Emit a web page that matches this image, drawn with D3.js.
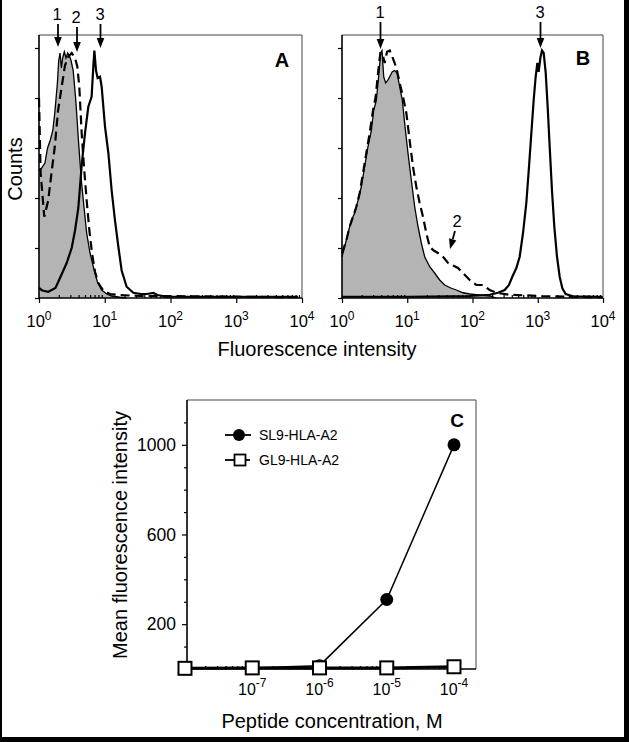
<!DOCTYPE html>
<html><head><meta charset="utf-8">
<script src="https://cdn.jsdelivr.net/npm/d3@7"></script>
<style>
body{margin:0;background:#fff}
svg{display:block}
text{font-family:"Liberation Sans",Arial,Helvetica,sans-serif;fill:#000}
</style>
</head><body>
<svg id="chart" width="629" height="742"></svg>
<script>
// ---------------- DATA ----------------
// Panels A/B: histogram curves as (log10 fluorescence intensity, counts in % of peak)
const aFillLog = [0,0.04,0.09,0.13,0.17,0.21,0.24,0.28,0.30,0.32,0.34,0.36,0.385,0.41,0.436,0.46,0.487,0.52,0.56,0.60,0.644,0.684,0.725,0.776,0.826,0.887,0.953,1.03,1.105,1.23,1.33];
const aFillCnt = [51,52,54,60,63,67,74,86,95,98,92,96,98.5,96,98,97,95,91,79,63,47,36.5,26,18,12.5,6.5,3.2,1.6,0.8,0.3,0];
const aDashLog = [0,0.025,0.08,0.14,0.19,0.24,0.29,0.345,0.395,0.446,0.497,0.548,0.583,0.613,0.649,0.684,0.725,0.766,0.806,0.852,0.902,0.978,1.08,1.23,1.54,1.79,3.97];
const aDashCnt = [80,50,32.5,39,50,60.5,75,84.5,93,96.5,98,96,92.5,84.5,66,52.5,39,27,18,10.5,6,3,1.6,1.2,0.8,0.8,0.3];
const aSolidLog = [0,0.05,0.142,0.25,0.294,0.37,0.421,0.497,0.548,0.598,0.649,0.70,0.75,0.80,0.826,0.842,0.867,0.892,0.928,0.953,1.004,1.055,1.105,1.156,1.207,1.257,1.333,1.435,1.55,1.64,1.74,1.80,1.94,3.94];
const aSolidCnt = [4,3,2.5,4,6.5,11,14,20,27,36,53,66,76.5,80.5,92.5,99,91,88,88.5,84.5,68.5,58,43,31,20.5,11,4.5,2.1,1.6,1.6,2,1.2,0.5,0.5];

const bFillLog = [0,0.041,0.092,0.143,0.194,0.245,0.296,0.347,0.398,0.45,0.485,0.526,0.567,0.593,0.613,0.639,0.669,0.70,0.731,0.771,0.807,0.843,0.884,0.925,0.966,1.011,1.063,1.114,1.165,1.216,1.267,1.344,1.42,1.497,1.573,1.676,1.752,1.854,1.957,2.059,2.263,2.365];
const bFillCnt = [16.5,20.5,26,31,34,39,44.5,52.5,60.5,67,75,79,90,98,99,88.5,86,87,88.5,90.5,91,90,84.5,79,68.5,58,47,36.5,28.5,22,16.5,12.5,10,7.2,5.2,3.9,3.2,2.1,1.6,1.3,0.8,0];
const bDashLog = [0,0.066,0.117,0.169,0.22,0.271,0.322,0.373,0.424,0.475,0.516,0.552,0.587,0.618,0.654,0.69,0.731,0.771,0.807,0.843,0.884,0.935,0.986,1.037,1.088,1.139,1.19,1.241,1.292,1.344,1.405,1.471,1.548,1.625,1.701,1.778,1.854,1.957,2.059,2.161,2.263,2.365,2.57,2.774,3.08,4.0];
const bDashCnt = [18,23,28.5,32.5,36.5,42,50,58,66,75,80.5,90,98,98,94,98.5,99,96.5,94,91,86,80.5,74,63,52.5,44.5,38,32.5,26,20.5,19,18,16.5,14,13,12,10,7.2,5.2,5.2,3.2,2.1,1.3,1.1,0.7,0.3];
const bSolidLog = [0,1.037,1.957,2.263,2.391,2.493,2.559,2.61,2.672,2.723,2.774,2.825,2.866,2.902,2.937,2.968,2.994,3.014,3.04,3.065,3.091,3.122,3.152,3.183,3.218,3.254,3.295,3.336,3.377,3.428,3.54,3.99];
const bSolidCnt = [0.5,0.5,0.8,1.3,2.1,3.2,5.2,8.5,12,16.5,26,38,52.5,66,79,88.5,94,90.5,96,99,98,90,76.5,60.5,43,28.5,16.5,8.5,3.9,1.6,0.7,0.5];

const histMajorTicks = [1, 10, 100, 1000, 10000];
const histMajorExp = ["0", "1", "2", "3", "4"];
const countTicks = [0, 20, 40, 60, 80, 100];

// Panel C
const concentrations = [1e-8, 1e-7, 1e-6, 1e-5, 1e-4];
const sl9Values = [5, 5, 15, 310, 1000];
const gl9Values = [3, 5, 5, 5, 10];
const concTickValues = [1e-7, 1e-6, 1e-5, 1e-4];
const concTickExp = ["-7", "-6", "-5", "-4"];
const mfiTickLabels = [200, 600, 1000];
const mfiMinorTicks = [100, 300, 400, 500, 700, 800, 900, 1100];
const seriesNames = ["SL9-HLA-A2", "GL9-HLA-A2"];

// ---------------- DRAW ----------------
const svg = d3.select("#chart");

function zipPts(logs, cnts) { return logs.map((l, i) => [l, cnts[i]]); }
function minorLogTicks(lo, hi) {
  const out = [];
  for (let e = lo; e < hi; e++) for (let k = 2; k <= 9; k++) out.push(k * Math.pow(10, e));
  return out;
}

function histPanel(x0, x1, fill, dash, solid, letter, letterPos) {
  const g = svg.append("g");
  const x = d3.scaleLog().domain([1, 10000]).range([x0, x1]);
  const y = d3.scaleLinear().domain([0, 105.2]).range([298, 35]);
  const X = d => x(Math.pow(10, d[0]));
  const area = d3.area().x(X).y0(y(0)).y1(d => y(d[1]));
  const line = d3.line().x(X).y(d => y(d[1]));

  g.append("path").datum(fill).attr("d", area).attr("fill", "#b4b4b4");
  g.append("path").datum(fill).attr("d", line).attr("fill", "none").attr("stroke", "#000").attr("stroke-width", 1.3);
  g.append("path").datum(dash).attr("d", line).attr("fill", "none").attr("stroke", "#000")
    .attr("stroke-width", 2.2).attr("stroke-dasharray", "9,5");
  g.append("path").datum(solid).attr("d", line).attr("fill", "none").attr("stroke", "#000").attr("stroke-width", 2.2);

  // frame
  g.append("line").attr("x1", x0).attr("x2", x1).attr("y1", 35).attr("y2", 35).attr("stroke", "#444").attr("stroke-width", 1);
  g.append("line").attr("x1", x1).attr("x2", x1).attr("y1", 35).attr("y2", 298).attr("stroke", "#444").attr("stroke-width", 1);
  g.append("line").attr("x1", x0).attr("x2", x0).attr("y1", 35).attr("y2", 298).attr("stroke", "#000").attr("stroke-width", 1.6);
  g.append("line").attr("x1", x0).attr("x2", x1).attr("y1", 298).attr("y2", 298).attr("stroke", "#000").attr("stroke-width", 1.6);

  // x ticks
  const ax = g.append("g").attr("transform", "translate(0,298)")
    .call(d3.axisBottom(x).tickValues(histMajorTicks).tickSize(5).tickFormat(""));
  ax.select(".domain").remove();
  const axm = g.append("g").attr("transform", "translate(0,298)")
    .call(d3.axisTop(x).tickValues(minorLogTicks(0, 4)).tickSize(3).tickFormat(""));
  axm.select(".domain").remove();
  g.selectAll(".tick line").attr("stroke", "#000").attr("stroke-width", 1.2);

  histMajorTicks.forEach((v, i) => {
    const t = g.append("text").attr("x", x(v)).attr("y", 327).attr("text-anchor", "middle").attr("font-size", 16.5);
    t.append("tspan").text("10");
    t.append("tspan").attr("dy", -7).attr("font-size", 12).text(histMajorExp[i]);
  });

  // y ticks
  const ay = g.append("g").attr("transform", `translate(${x0},0)`)
    .call(d3.axisLeft(y).tickValues(countTicks).tickSize(4).tickFormat(""));
  ay.select(".domain").remove();
  ay.selectAll("line").attr("stroke", "#000").attr("stroke-width", 1.2);

  g.append("text").attr("x", letterPos[0]).attr("y", letterPos[1]).attr("text-anchor", "middle")
    .attr("font-size", 20).attr("font-weight", "bold").text(letter);
  return g;
}

function arrow(g, label, tx, ty, xa, ya, xb, yb) {
  g.append("text").attr("x", tx).attr("y", ty).attr("text-anchor", "middle").attr("font-size", 16.5).text(label);
  const ang = Math.atan2(yb - ya, xb - xa);
  const hl = 10, hw = 3.8;
  const bx = xb - hl * Math.cos(ang), by = yb - hl * Math.sin(ang);
  g.append("line").attr("x1", xa).attr("y1", ya).attr("x2", bx).attr("y2", by).attr("stroke", "#000").attr("stroke-width", 1.8);
  const px = -Math.sin(ang) * hw, py = Math.cos(ang) * hw;
  g.append("path").attr("d", `M${xb},${yb}L${bx + px},${by + py}L${bx - px},${by - py}Z`).attr("fill", "#000");
}

const gA = histPanel(39, 302, zipPts(aFillLog, aFillCnt), zipPts(aDashLog, aDashCnt), zipPts(aSolidLog, aSolidCnt), "A", [282, 67]);
arrow(gA, "1", 57, 20, 58, 24, 58, 47);
arrow(gA, "2", 76, 23, 77, 27, 77, 52);
arrow(gA, "3", 100, 20, 100.5, 24, 100.5, 48);

const gB = histPanel(342, 603, zipPts(bFillLog, bFillCnt), zipPts(bDashLog, bDashCnt), zipPts(bSolidLog, bSolidCnt), "B", [583, 65]);
arrow(gB, "1", 380, 18, 380.5, 22, 380.5, 49);
arrow(gB, "3", 540, 18, 540.5, 22, 540.5, 48);
arrow(gB, "2", 457, 227, 455, 231, 450, 249);

svg.append("text").attr("transform", "translate(22,169) rotate(-90)").attr("text-anchor", "middle")
  .attr("font-size", 20).text("Counts");
svg.append("text").attr("x", 317).attr("y", 356).attr("text-anchor", "middle")
  .attr("font-size", 20).text("Fluorescence intensity");

// ---------------- PANEL C ----------------
const gC = svg.append("g");
const cx0 = 187, cx1 = 476, cyTop = 400, cyBot = 669;
const xc = d3.scaleLog().domain([Math.pow(10, -7.97), Math.pow(10, -3.673)]).range([cx0, cx1]);
const yc = d3.scaleLinear().domain([0, 1200]).range([cyBot, cyTop]);

gC.append("line").attr("x1", cx0).attr("x2", cx1).attr("y1", cyTop).attr("y2", cyTop).attr("stroke", "#444").attr("stroke-width", 1);
gC.append("line").attr("x1", cx1).attr("x2", cx1).attr("y1", cyTop).attr("y2", cyBot).attr("stroke", "#444").attr("stroke-width", 1);
gC.append("line").attr("x1", cx0).attr("x2", cx0).attr("y1", cyTop).attr("y2", cyBot).attr("stroke", "#000").attr("stroke-width", 1.6);
gC.append("line").attr("x1", cx0).attr("x2", cx1).attr("y1", cyBot).attr("y2", cyBot).attr("stroke", "#000").attr("stroke-width", 1.6);

const cyAx = gC.append("g").attr("transform", `translate(${cx0},0)`)
  .call(d3.axisLeft(yc).tickValues(mfiTickLabels).tickSize(5).tickFormat(""));
cyAx.select(".domain").remove();
const cyAxm = gC.append("g").attr("transform", `translate(${cx0},0)`)
  .call(d3.axisLeft(yc).tickValues(mfiMinorTicks).tickSize(3).tickFormat(""));
cyAxm.select(".domain").remove();
mfiTickLabels.forEach(v => {
  gC.append("text").attr("x", 176).attr("y", yc(v)).attr("dy", "0.36em").attr("text-anchor", "end")
    .attr("font-size", 17.5).text(v);
});

const cxAx = gC.append("g").attr("transform", `translate(0,${cyBot})`)
  .call(d3.axisBottom(xc).tickValues(concTickValues).tickSize(5).tickFormat(""));
cxAx.select(".domain").remove();
const cxAxm = gC.append("g").attr("transform", `translate(0,${cyBot})`)
  .call(d3.axisTop(xc).tickValues(minorLogTicks(-8, -4).filter(v => xc(v) > cx0)).tickSize(3).tickFormat(""));
cxAxm.select(".domain").remove();
gC.selectAll(".tick line").attr("stroke", "#000").attr("stroke-width", 1.2);
concTickValues.forEach((v, i) => {
  const t = gC.append("text").attr("x", xc(v)).attr("y", 695).attr("text-anchor", "middle").attr("font-size", 16);
  t.append("tspan").text("10");
  t.append("tspan").attr("dy", -8).attr("font-size", 12).text(concTickExp[i]);
});

const lineC = d3.line().x(d => xc(d[0])).y(d => yc(d[1]));
const sl9 = concentrations.map((c, i) => [c, sl9Values[i]]);
const gl9 = concentrations.map((c, i) => [c, gl9Values[i]]);

gC.append("path").datum(sl9).attr("d", lineC).attr("fill", "none").attr("stroke", "#000").attr("stroke-width", 1.5);
gC.selectAll("circle.sl9").data(sl9).join("circle").attr("class", "sl9")
  .attr("cx", d => xc(d[0])).attr("cy", d => yc(d[1])).attr("r", 6.5).attr("fill", "#000");
gC.append("path").datum(gl9).attr("d", lineC).attr("fill", "none").attr("stroke", "#000").attr("stroke-width", 3);
gC.selectAll("rect.gl9").data(gl9).join("rect").attr("class", "gl9")
  .attr("x", d => xc(d[0]) - 6.5).attr("y", d => yc(d[1]) - 6.5).attr("width", 13).attr("height", 13)
  .attr("fill", "#fff").attr("stroke", "#000").attr("stroke-width", 2);

// legend
gC.append("line").attr("x1", 225).attr("x2", 251).attr("y1", 435).attr("y2", 435).attr("stroke", "#000").attr("stroke-width", 1.8);
gC.append("circle").attr("cx", 239).attr("cy", 435).attr("r", 6).attr("fill", "#000");
gC.append("text").attr("x", 259).attr("y", 440).attr("font-size", 14).text(seriesNames[0]);
gC.append("line").attr("x1", 225).attr("x2", 250).attr("y1", 460).attr("y2", 460).attr("stroke", "#000").attr("stroke-width", 1.8);
gC.append("rect").attr("x", 234.5).attr("y", 454.5).attr("width", 11).attr("height", 11).attr("fill", "#fff").attr("stroke", "#000").attr("stroke-width", 1.8);
gC.append("text").attr("x", 259).attr("y", 465).attr("font-size", 14).text(seriesNames[1]);

gC.append("text").attr("x", 457).attr("y", 427).attr("text-anchor", "middle").attr("font-size", 19).attr("font-weight", "bold").text("C");

svg.append("text").attr("transform", "translate(127,535) rotate(-90)").attr("text-anchor", "middle")
  .attr("font-size", 20).text("Mean fluorescence intensity");
svg.append("text").attr("x", 332).attr("y", 728).attr("text-anchor", "middle")
  .attr("font-size", 20).text("Peptide concentration, M");

// outer border
svg.append("rect").attr("x", 0).attr("y", 0).attr("width", 2).attr("height", 742).attr("fill", "#000");
svg.append("rect").attr("x", 624).attr("y", 0).attr("width", 5).attr("height", 742).attr("fill", "#000");
svg.append("rect").attr("x", 0).attr("y", 737).attr("width", 629).attr("height", 5).attr("fill", "#000");
</script>
</body></html>
